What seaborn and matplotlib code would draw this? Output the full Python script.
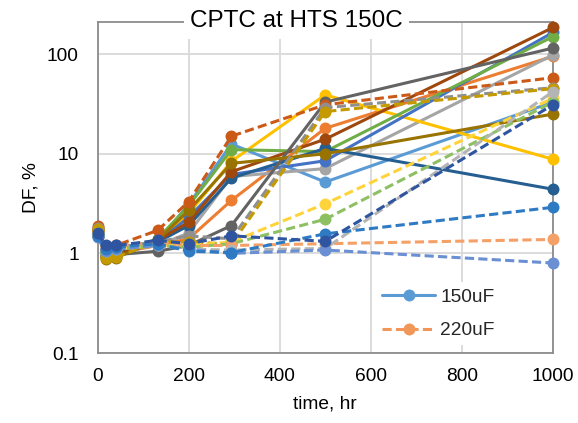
import numpy as np
import pandas as pd
import matplotlib
matplotlib.use("Agg")
import matplotlib.pyplot as plt
import seaborn as sns
from matplotlib.lines import Line2D
from matplotlib.ticker import LogLocator, FixedLocator, FixedFormatter, NullFormatter

# ---------------- data ----------------
time_hr = [0, 18, 40, 132, 200, 294, 500, 1000]

# 150uF (solid lines)
s150_a = [1.60, 1.00, 1.05, 1.30, 3.10, 12.5, 5.2, 33]
s150_b = [1.70, 1.00, 1.00, 1.20, 1.40, 3.4, 18.0, 95]
s150_c = [1.55, 1.05, 1.05, 1.20, 1.60, 5.9, 7.1, 98]
s150_d = [1.75, 0.95, 1.00, 1.30, 2.50, 8.4, 39.0, 8.8]
s150_e = [1.60, 1.10, 1.10, 1.30, 2.30, 6.2, 8.5, 165]
s150_f = [1.50, 1.00, 1.00, 1.40, 3.00, 11.0, 10.5, 150]
s150_g = [1.50, 1.05, 1.05, 1.30, 1.90, 5.7, 11.3, 4.4]
s150_h = [1.70, 0.92, 0.95, 1.35, 2.05, 6.6, 14.0, 185]
s150_i = [1.80, 0.95, 0.97, 1.05, 1.20, 1.9, 33.0, 115]
s150_j = [1.70, 0.88, 0.90, 1.35, 2.70, 8.0, 10.0, 25]

# 220uF (dashed lines)
s220_a = [1.90, 1.10, 1.20, 1.70, 3.30, 15.0, 31.0, 58]
s220_b = [1.80, 1.10, 1.15, 1.30, 1.50, 1.40, 29.0, 46]
s220_c = [1.75, 0.90, 0.92, 1.30, 1.30, 1.24, 26.5, 45]
s220_d = [1.60, 1.05, 1.10, 1.20, 1.20, 1.30, 3.15, 36]
s220_e = [1.55, 1.05, 1.10, 1.20, 1.15, 1.25, 2.20, 33]
s220_f = [1.45, 1.15, 1.20, 1.30, 1.20, 1.20, 1.25, 1.38]
s220_g = [1.50, 1.10, 1.10, 1.20, 1.10, 1.08, 1.12, 42]
s220_h = [1.45, 1.05, 1.10, 1.20, 1.10, 1.00, 1.08, 0.80]
s220_i = [1.50, 1.10, 1.15, 1.25, 1.05, 1.02, 1.57, 2.9]
s220_j = [1.60, 1.20, 1.20, 1.35, 1.25, 1.50, 1.32, 31]

series_150 = [s150_a, s150_b, s150_c, s150_d, s150_e, s150_f, s150_g, s150_h, s150_i, s150_j]
series_220 = [s220_a, s220_b, s220_c, s220_d, s220_e, s220_f, s220_g, s220_h, s220_i, s220_j]
colors_150 = ["#5B9BD5", "#ED7D31", "#A5A5A5", "#FFC000", "#4472C4",
              "#70AD47", "#255E91", "#9E480E", "#636363", "#997300"]
colors_220 = ["#CB5A18", "#8F8F8F", "#C49A00", "#FFD43B", "#8DC063",
              "#F4A066", "#B4B4B4", "#6A8FD3", "#2E7BC4", "#2F55A0"]
legend_labels = ["150uF", "220uF"]

# ---------------- build table ----------------
rows = []
palette = {}
order = []
for i, (vals, col) in enumerate(zip(series_150, colors_150)):
    name = f"150uF #{i+1}"
    palette[name] = col
    order.append(name)
    for t, v in zip(time_hr, vals):
        rows.append((name, "150uF", t, v))
for i, (vals, col) in enumerate(zip(series_220, colors_220)):
    name = f"220uF #{i+1}"
    palette[name] = col
    order.append(name)
    for t, v in zip(time_hr, vals):
        rows.append((name, "220uF", t, v))
df = pd.DataFrame(rows, columns=["series", "cap", "time", "DF"])

# ---------------- style ----------------
sns.set_theme(style="white")
plt.rcParams["font.family"] = ["Liberation Sans", "DejaVu Sans"]

W, H = 578, 423
fig = plt.figure(figsize=(W / 100, H / 100), dpi=100)
L, R, T, B = 97.5, 553, 22, 353
ax = fig.add_axes([L / W, 1 - B / H, (R - L) / W, (B - T) / H])
ax.set_yscale("log")

LW = 2.2
MS = 8.6
sns.lineplot(data=df, x="time", y="DF", hue="series", hue_order=order,
             style="cap", palette=palette,
             dashes={"150uF": "", "220uF": (3.0, 1.4)},
             markers={"150uF": "o", "220uF": "o"},
             markersize=MS, markeredgewidth=0, linewidth=LW,
             estimator=None, sort=True, legend=False, ax=ax)
for ln in ax.lines:
    ln.set_clip_on(False)
    ln.set_zorder(3)

ax.set_xlim(0, 1000)
ax.set_ylim(0.1, 210)

# ticks
ax.xaxis.set_major_locator(FixedLocator([0, 200, 400, 600, 800, 1000]))
ax.yaxis.set_major_locator(FixedLocator([0.1, 1, 10, 100]))
ax.yaxis.set_major_formatter(FixedFormatter(["0.1", "1", "10", "100"]))
ax.yaxis.set_minor_locator(LogLocator(base=10, subs=np.arange(2, 10)))
ax.yaxis.set_minor_formatter(NullFormatter())
ax.tick_params(axis="x", which="both", length=0, pad=11, labelsize=13.8, colors="#000000")
ax.tick_params(axis="y", which="major", direction="in", length=5, width=1,
               color="#8C8C8C", pad=13.5, labelsize=13.8, labelcolor="#000000")
ax.tick_params(axis="y", which="minor", direction="in", length=4, width=1,
               color="#8C8C8C")

ax.grid(True, which="major", color="#D9D9D9", linewidth=1.3)
ax.set_axisbelow(True)
for sp in ax.spines.values():
    sp.set_color("#8C8C8C")
    sp.set_linewidth(1.3)
    sp.set_visible(True)

ax.set_xlabel("time, hr", fontsize=13.8, color="#000000")
ax.set_ylabel("DF, %", fontsize=13.8, color="#000000")
ax.xaxis.set_label_coords(0.5, -(395 - B) / (B - T))
ax.yaxis.set_label_coords(-(L - 40) / (R - L), 0.5)

# legend
handles = [
    Line2D([], [], color="#5B9BD5", lw=LW, marker="o", ms=MS, mew=0),
    Line2D([], [], color="#F1975A", lw=LW, ls=(0, (3.0, 1.4)), marker="o", ms=MS, mew=0),
]
x0 = (376 - L) / (R - L)
y0 = (B - 345) / (B - T)
leg = ax.legend(handles, legend_labels, loc="lower left",
                bbox_to_anchor=(x0, y0, 1 - x0 - 0.004, 0.23), mode="expand",
                frameon=True, fancybox=False, framealpha=1, edgecolor="none",
                facecolor="white", fontsize=13.8, handlelength=2.8,
                handletextpad=0.25, labelspacing=0.85, borderpad=0.3,
                borderaxespad=0)
leg.set_zorder(5)

# title breaking the top frame line
fig.text(296.7 / W, 1 - 27.3 / H, "CPTC at HTS 150C", ha="center", va="baseline",
         fontsize=17.5, color="#000000",
         bbox=dict(facecolor="white", edgecolor="none", pad=4.5))

fig.savefig("out.png", dpi=100)
